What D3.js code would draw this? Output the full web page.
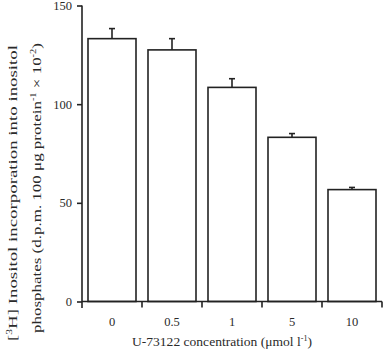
<!DOCTYPE html>
<html><head><meta charset="utf-8">
<script src="https://cdn.jsdelivr.net/npm/d3@7"></script>
<style>body{margin:0;background:#fff}svg{display:block}text{font-family:"Liberation Serif","Times New Roman",Times,serif !important;fill:#2a2a2a}</style>
</head><body>
<script>
const categories = ["0","0.5","1","5","10"];
const values = [133.2, 127.5, 108.5, 83.2, 56.7];
const errors = [5.1, 5.7, 4.4, 1.9, 1.1];
const yTicks = [0, 50, 100, 150];

const W = 384, H = 351;
const svg = d3.select("body").append("svg").attr("width", W).attr("height", H);
const ink = "#222";
const x = d3.scaleBand().domain(categories).range([82, 382]).paddingInner(0.2).paddingOuter(0.1);
const y = d3.scaleLinear().domain([0, 150]).range([301.5, 5.5]);

// bars
svg.selectAll("rect.bar").data(categories).enter().append("rect")
  .attr("x", c => x(c)).attr("width", x.bandwidth())
  .attr("y", (c,i) => y(values[i])).attr("height", (c,i) => y(0) - y(values[i]))
  .attr("fill", "#fff").attr("stroke", ink).attr("stroke-width", 1.6);

// error bars (upward)
const eg = svg.append("g");
categories.forEach((c,i) => {
  const cx = x(c) + x.bandwidth()/2;
  eg.append("line").attr("x1", cx).attr("x2", cx).attr("y1", y(values[i])).attr("y2", y(values[i]+errors[i]))
    .attr("stroke", ink).attr("stroke-width", 1.6);
  eg.append("line").attr("x1", cx-3).attr("x2", cx+3).attr("y1", y(values[i]+errors[i])).attr("y2", y(values[i]+errors[i]))
    .attr("stroke", ink).attr("stroke-width", 1.6);
});

// y axis
const ya = svg.append("g").attr("transform", "translate(82,0)")
  .call(d3.axisLeft(y).tickValues(yTicks).tickSize(5).tickPadding(5));
ya.select(".domain").remove();
ya.selectAll("line").attr("stroke", ink).attr("stroke-width", 1.6);
ya.selectAll("text").attr("font-size", 12.5).attr("fill", "#2a2a2a");
svg.append("line").attr("x1", 82).attr("x2", 82).attr("y1", y(150)).attr("y2", 308).attr("stroke", ink).attr("stroke-width", 1.6);

// x axis
svg.append("line").attr("x1", 82).attr("x2", 382).attr("y1", y(0)).attr("y2", y(0)).attr("stroke", ink).attr("stroke-width", 1.6);
const half = x.step()*x.paddingInner()/2;
svg.selectAll("line.bt").data(categories).enter().append("line")
  .attr("x1", c => x(c) + x.bandwidth() + half).attr("x2", c => x(c) + x.bandwidth() + half)
  .attr("y1", y(0)).attr("y2", y(0)+6).attr("stroke", ink).attr("stroke-width", 1.6);
const xa = svg.append("g").attr("transform", `translate(0,${y(0)})`)
  .call(d3.axisBottom(x).tickSize(0).tickPadding(16));
xa.select(".domain").remove();
xa.selectAll("text").attr("font-size", 12.5).attr("fill", "#2a2a2a");

// x title
const xt = svg.append("text").attr("x", 222).attr("y", 346).attr("text-anchor", "middle").attr("font-size", 13.3)
  .attr("textLength", 180).attr("lengthAdjust", "spacingAndGlyphs");
xt.append("tspan").text("U-73122 concentration (μmol l");
xt.append("tspan").attr("font-size", 8).attr("dy", -5).text("-1");
xt.append("tspan").attr("dy", 5).text(")");

// y title
const yt1 = svg.append("text").attr("transform", "translate(17,193) rotate(-90)").attr("text-anchor", "middle")
  .attr("font-size", 13).attr("textLength", 296).attr("lengthAdjust", "spacingAndGlyphs");
yt1.append("tspan").text("[");
yt1.append("tspan").attr("font-size", 8).attr("dy", -5).text("3");
yt1.append("tspan").attr("dy", 5).text("H] Inositol incorporation into inositol");
const yt2 = svg.append("text").attr("transform", "translate(41,188) rotate(-90)").attr("text-anchor", "middle")
  .attr("font-size", 13).attr("textLength", 290).attr("lengthAdjust", "spacingAndGlyphs");
yt2.append("tspan").text("phosphates (d.p.m. 100 μg protein");
yt2.append("tspan").attr("font-size", 8).attr("dy", -5).text("-1");
yt2.append("tspan").attr("dy", 5).text(" × 10");
yt2.append("tspan").attr("font-size", 8).attr("dy", -5).text("-2");
yt2.append("tspan").attr("dy", 5).text(")");
</script>
</body></html>
